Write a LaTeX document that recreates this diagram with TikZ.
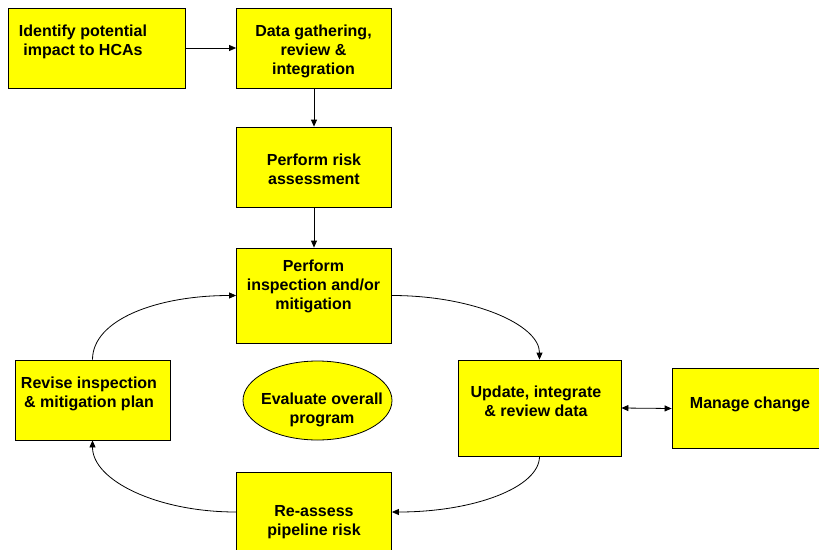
\documentclass[tikz,border=0pt]{standalone}
\usepackage{fontspec}
\setmainfont{Liberation Sans}
\usetikzlibrary{arrows.meta, shapes.geometric}
\definecolor{boxyellow}{HTML}{FFFF00}

\begin{document}
\begin{tikzpicture}[
  x=1pt, y=1pt,
  box/.style={draw=black, fill=boxyellow, line width=0.8pt, inner sep=0pt},
  txt/.style={font=\bfseries\fontsize{16}{19}\selectfont, align=center, inner sep=0pt},
  flow/.style={-{Triangle[length=7pt, width=6pt]}, line width=0.8pt},
]
\useasboundingbox (0,0) rectangle (819,-549);

% ===== Top row and straight chain =====
\node[box, minimum width=177pt, minimum height=80pt] (idb) at (96.5,-48) {};
\node[txt] (idt) at (83,-42) {Identify potential\\impact to HCAs};

\node[box, minimum width=155pt, minimum height=80pt] (datab) at (314,-48) {};
\node[txt] (datat) at (313.5,-51) {Data gathering,\\review \&\\integration};

\node[box, minimum width=155pt, minimum height=80pt] (riskb) at (314,-167) {};
\node[txt] (riskt) at (314,-169.5) {Perform risk\\assessment};

\node[box, minimum width=155pt, minimum height=95pt] (inspb) at (314,-295.5) {};
\node[txt] (inspt) at (313.5,-286.5) {Perform\\inspection and/or\\mitigation};

% ===== Loop =====
\node[box, minimum width=163pt, minimum height=96pt] (updb) at (539.5,-408) {};
\node[txt] (updt) at (536,-401.5) {Update, integrate\\\& review data};

\node[box, minimum width=156pt, minimum height=80pt] (mgb) at (750,-408.5) {};
\node[txt] (mgt) at (750,-404) {Manage change};

\node[box, minimum width=155pt, minimum height=80pt] (reab) at (314,-512) {};
\node[txt] (reat) at (314,-522) {Re-assess\\pipeline risk};

\node[box, minimum width=155pt, minimum height=80pt] (revb) at (92.5,-400) {};
\node[txt] (revt) at (89,-394) {Revise inspection\\\& mitigation plan};

% centre ellipse
\node[box, ellipse, minimum width=149pt, minimum height=79pt] (evalb) at (317.5,-400.5) {};
\node[txt] (evalt) at (322,-410) {Evaluate overall\\program};

% ===== Connectors =====
\draw[flow] (idb.east) -- (datab.west);
\draw[flow] (datab.south) -- (riskb.north);
\draw[flow] (riskb.south) -- (inspb.north);

\draw[flow] (inspb.east) .. controls +(81,0) and +(0,35) .. (updb.north);
\draw[flow] (updb.south) .. controls +(0,-31) and +(82,0) .. (reab.east);
\draw[flow] (reab.west) .. controls +(-79,0) and +(0,-40) .. (revb.south);
\draw[flow] (revb.north) .. controls +(0,40) and +(-79,0) .. (inspb.west);

\draw[{Triangle[length=7pt, width=6pt]}-{Triangle[length=7pt, width=6pt]}, line width=0.8pt]
  (updb.east) -- (mgb.west);

\end{tikzpicture}
\end{document}
